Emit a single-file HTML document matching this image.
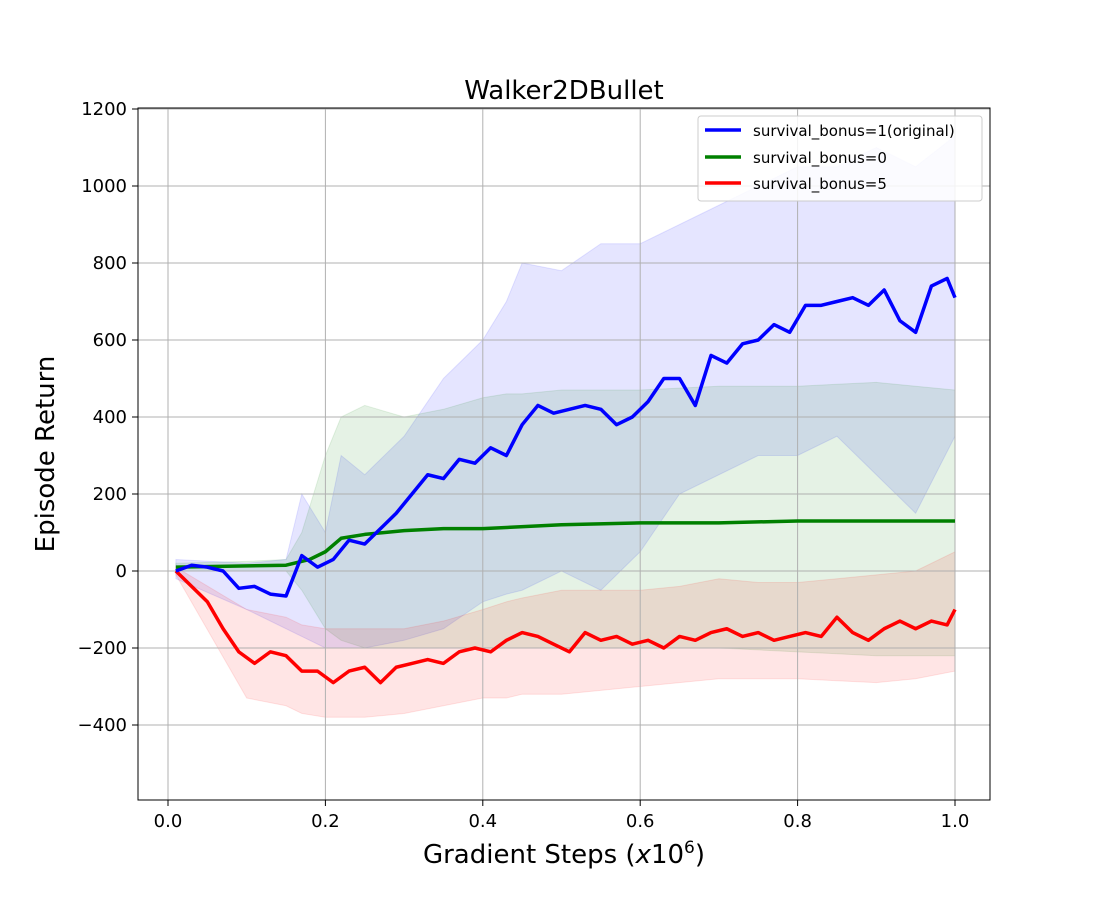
<!DOCTYPE html>
<html><head><meta charset="utf-8">
<style>
html,body{margin:0;padding:0;background:#fff;}
svg text{font-family:"DejaVu Sans","Liberation Sans",sans-serif;}
</style></head>
<body>
<svg id="chart" width="1100" height="900" xmlns="http://www.w3.org/2000/svg">
<rect width="1100" height="900" fill="#fff"/>
<g id="bands"></g>
<g id="grid"></g>
<g id="lines"></g>
<rect x="138" y="108" width="852" height="692" fill="none" stroke="#000" stroke-width="1"/>
<g id="ticks"></g>
<text x="564" y="99" font-size="26" text-anchor="middle">Walker2DBullet</text>
<text x="564" y="863" font-size="26" text-anchor="middle">Gradient Steps (<tspan font-style="italic">x</tspan>10<tspan baseline-shift="super" font-size="17">6</tspan>)</text>
<text x="54" y="454" font-size="26" text-anchor="middle" transform="rotate(-90 54 454)">Episode Return</text>
<g>
<rect x="698" y="116" width="284" height="85" rx="3" fill="#fff" fill-opacity="0.85" stroke="#ccc"/>
<line x1="705" y1="130" x2="741" y2="130" stroke="#0000ff" stroke-width="3.5"/>
<text x="753" y="136" font-size="15">survival_bonus=1(original)</text>
<line x1="705" y1="157" x2="741" y2="157" stroke="#008000" stroke-width="3.5"/>
<text x="753" y="163" font-size="15">survival_bonus=0</text>
<line x1="705" y1="183" x2="741" y2="183" stroke="#ff0000" stroke-width="3.5"/>
<text x="753" y="189" font-size="15">survival_bonus=5</text>
</g>
</svg>
<script>
const xTicks=[0.0,0.2,0.4,0.6,0.8,1.0];
const xTickLabels=["0.0","0.2","0.4","0.6","0.8","1.0"];
const yTicks=[-400,-200,0,200,400,600,800,1000,1200];
const yTickLabels=["\u2212400","\u2212200","0","200","400","600","800","1000","1200"];
const steps=[0.01,0.03,0.05,0.07,0.09,0.11,0.13,0.15,0.17,0.19,0.21,0.23,0.25,0.27,0.29,0.31,0.33,0.35,0.37,0.39,0.41,0.43,0.45,0.47,0.49,0.51,0.53,0.55,0.57,0.59,0.61,0.63,0.65,0.67,0.69,0.71,0.73,0.75,0.77,0.79,0.81,0.83,0.85,0.87,0.89,0.91,0.93,0.95,0.97,0.99,1.0];
const blueMean=[0,15,10,0,-45,-40,-60,-65,40,10,30,80,70,110,150,200,250,240,290,280,320,300,380,430,410,420,430,420,380,400,440,500,500,430,560,540,590,600,640,620,690,690,700,710,690,730,650,620,740,760,710];
const redMean=[0,-40,-80,-150,-210,-240,-210,-220,-260,-260,-290,-260,-250,-290,-250,-240,-230,-240,-210,-200,-210,-180,-160,-170,-190,-210,-160,-180,-170,-190,-180,-200,-170,-180,-160,-150,-170,-160,-180,-170,-160,-170,-120,-160,-180,-150,-130,-150,-130,-140,-100];
const greenSteps=[0.01,0.15,0.18,0.2,0.22,0.25,0.3,0.35,0.4,0.5,0.6,0.7,0.8,0.9,1.0];
const greenMean=[10,15,30,50,85,95,105,110,110,120,125,125,130,130,130];
const bandSteps=[0.01,0.1,0.15,0.17,0.2,0.22,0.25,0.3,0.35,0.4,0.43,0.45,0.5,0.55,0.6,0.65,0.7,0.75,0.8,0.85,0.9,0.95,1.0];
const blueUpper=[30,20,30,200,100,300,250,350,500,600,700,800,780,850,850,900,950,1000,1050,1050,1100,1050,1130];
const blueLower=[-20,-100,-150,-170,-200,-200,-200,-180,-150,-80,-60,-50,0,-50,50,200,250,300,300,350,250,150,350];
const greenUpper=[20,25,30,100,300,400,430,400,420,450,460,460,470,470,470,475,480,480,480,485,490,480,470];
const greenLower=[0,0,0,-50,-150,-180,-200,-200,-200,-200,-200,-200,-200,-200,-200,-200,-200,-205,-210,-215,-220,-220,-220];
const redUpper=[10,-100,-120,-140,-150,-150,-150,-150,-130,-100,-80,-70,-50,-50,-50,-40,-20,-30,-30,-20,-10,0,50];
const redLower=[-10,-330,-350,-370,-380,-380,-380,-370,-350,-330,-330,-320,-320,-310,-300,-290,-280,-280,-280,-285,-290,-280,-260];

const NS="http://www.w3.org/2000/svg";
const X=v=>168+v*787;
const Y=v=>571-v*0.385;
function mk(tag,parent,attrs){const e=document.createElementNS(NS,tag);for(const k in attrs)e.setAttribute(k,attrs[k]);parent.appendChild(e);return e;}
const grid=document.getElementById('grid'),ticks=document.getElementById('ticks'),bands=document.getElementById('bands'),lines=document.getElementById('lines');
xTicks.forEach((t,i)=>{
 const g=mk('line',grid,{x1:X(t),x2:X(t),y1:108,y2:800,stroke:'#b0b0b0','stroke-width':1});
 
 
 mk('line',ticks,{x1:X(t),x2:X(t),y1:800,y2:806,stroke:'#000'});
 const tx=mk('text',ticks,{x:X(t),y:827,'font-size':18,'text-anchor':'middle'});
 tx.textContent=xTickLabels[i];
 
 
});
yTicks.forEach((t,i)=>{
 const g=mk('line',grid,{x1:138,x2:990,y1:Y(t),y2:Y(t),stroke:'#b0b0b0','stroke-width':1});
 
 
 mk('line',ticks,{x1:132,x2:138,y1:Y(t),y2:Y(t),stroke:'#000'});
 const tx=mk('text',ticks,{x:127,y:Y(t)+6,'font-size':18,'text-anchor':'end'});
 tx.textContent=yTickLabels[i];
 
 
});
function band(xs,up,lo,color,name){
 let d='M'+xs.map((x,i)=>X(x)+','+Y(up[i])).join('L');
 d+='L'+xs.map((x,i)=>[X(x),Y(lo[i])]).reverse().map(p=>p.join(',')).join('L')+'Z';
 const p=mk('path',bands,{d:d,fill:color,'fill-opacity':0.1,stroke:color,'stroke-opacity':0.1});
 
 
}
band(bandSteps,blueUpper,blueLower,'#0000ff','band-bonus-1');
band(bandSteps,greenUpper,greenLower,'#008000','band-bonus-0');
band(bandSteps,redUpper,redLower,'#ff0000','band-bonus-5');
function line(xs,ys,color,name){
 const p=mk('polyline',lines,{points:xs.map((x,i)=>X(x)+','+Y(ys[i])).join(' '),fill:'none',stroke:color,'stroke-width':3.5,'stroke-linejoin':'round'});
 
 
}
line(greenSteps,greenMean,'#008000','line-bonus-0');
line(steps,redMean,'#ff0000','line-bonus-5');
line(steps,blueMean,'#0000ff','line-bonus-1');
</script>
</body></html>
